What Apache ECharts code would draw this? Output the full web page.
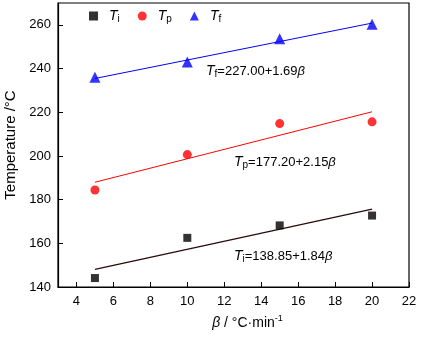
<!DOCTYPE html>
<html><head><meta charset="utf-8">
<script src="https://cdn.jsdelivr.net/npm/echarts@6/dist/echarts.min.js"></script>
<style>html,body{margin:0;padding:0;background:#fff}#c{width:422px;height:342px}</style>
</head><body><div id="c"></div>
<script>
const beta = [5, 10, 15, 20];
const Ti = [144.1, 162.5, 168.2, 172.7];
const Tp = [184.4, 200.6, 214.8, 215.6];
const Tf = [236.0, 243.0, 253.6, 260.3];
const fitX = [5, 20];
const TiFit = [148.05, 175.65];
const TpFit = [187.95, 220.20];
const TfFit = [235.45, 260.80];
const xTicks = [4, 6, 8, 10, 12, 14, 16, 18, 20, 22];
const yTicks = [140, 160, 180, 200, 220, 240, 260];

const FONT = 'Liberation Sans, Arial, sans-serif';
const pair = (xs, ys) => xs.map((x, i) => [x, ys[i]]);
const chart = echarts.init(document.getElementById('c'), null, {renderer: 'canvas'});

const rich = {
  t: {fontFamily: FONT, fontSize: 14, fontStyle: 'italic', color: '#000', lineHeight: 16},
  s: {fontFamily: FONT, fontSize: 10, color: '#000', verticalAlign: 'bottom', lineHeight: 10},
  n: {fontFamily: FONT, fontSize: 13, color: '#000', lineHeight: 16},
  b: {fontFamily: FONT, fontSize: 13, fontStyle: 'italic', color: '#000', lineHeight: 16}
};
const legRich = Object.assign({}, rich, {
  t: Object.assign({}, rich.t, {padding: [0, 0, 0, 6]})
});
const subs = {Ti: 'i', Tp: 'p', Tf: 'f'};

chart.setOption({
  animation: false,
  grid: {left: 58, top: 3, right: 13, bottom: 55, containLabel: false, outerBoundsMode: 'none'},
  legend: {
    left: 84, top: 4, itemGap: 18, itemWidth: 9, itemHeight: 9,
    data: [
      {name: 'Ti', icon: 'rect'},
      {name: 'Tp', icon: 'circle'},
      {name: 'Tf', icon: 'triangle'}
    ],
    formatter: n => '{t|T}{s|' + subs[n] + '}',
    textStyle: {rich: legRich}
  },
  xAxis: {
    type: 'value', min: 3, max: 22,
    name: '{b|β} / °C·min{sup|-1}', nameLocation: 'middle', nameGap: 27,
    nameTextStyle: {fontFamily: FONT, fontSize: 14, color: '#000', padding: [0, 0, 0, 28],
      rich: {b: {fontFamily: FONT, fontSize: 14, fontStyle: 'italic', color: '#000'},
             sup: {fontFamily: FONT, fontSize: 9, color: '#000', verticalAlign: 'top', lineHeight: 18}}},
    axisLine: {lineStyle: {color: '#000', width: 1.2}},
    axisTick: {inside: true, length: 5, customValues: xTicks, lineStyle: {color: '#000'}},
    axisLabel: {customValues: xTicks, fontFamily: FONT, fontSize: 13, color: '#000', margin: 8},
    splitLine: {show: false}
  },
  yAxis: {
    type: 'value', min: 140, max: 270,
    name: 'Temperature /°C', nameLocation: 'middle', nameGap: 40, nameRotate: 90,
    nameTextStyle: {fontFamily: FONT, fontSize: 15, color: '#000'},
    axisLine: {lineStyle: {color: '#000', width: 1.2}},
    axisTick: {inside: true, length: 5, customValues: yTicks, lineStyle: {color: '#000'}},
    axisLabel: {customValues: yTicks, fontFamily: FONT, fontSize: 13, color: '#000', margin: 7},
    splitLine: {show: false}
  },
  series: [
    {name: 'Ti', type: 'scatter', symbol: 'rect', symbolSize: 8, itemStyle: {color: '#000'}, data: pair(beta, Ti), z: 3},
    {name: 'Tp', type: 'scatter', symbol: 'circle', symbolSize: 9, itemStyle: {color: '#ff0000'}, data: pair(beta, Tp), z: 3},
    {name: 'Tf', type: 'scatter', symbol: 'triangle', symbolSize: 11, itemStyle: {color: '#0000ff'}, data: pair(beta, Tf), z: 3},
    {type: 'line', symbol: 'none', data: pair(fitX, TiFit), lineStyle: {color: '#2a0a0a', width: 1.3}},
    {type: 'line', symbol: 'none', data: pair(fitX, TpFit), lineStyle: {color: '#ff0000', width: 1}},
    {type: 'line', symbol: 'none', data: pair(fitX, TfFit), lineStyle: {color: '#0000ff', width: 1}}
  ],
  graphic: [
    {type: 'rect', shape: {x: 58, y: 3, width: 351, height: 284}, style: {fill: 'none', stroke: '#000', lineWidth: 1.2}, silent: true},
    {type: 'text', left: 206, top: 64, style: {text: '{t|T}{s|f}{n|=227.00+1.69}{b|β}', rich: rich}},
    {type: 'text', left: 234, top: 155, style: {text: '{t|T}{s|p}{n|=177.20+2.15}{b|β}', rich: rich}},
    {type: 'text', left: 234, top: 249, style: {text: '{t|T}{s|i}{n|=138.85+1.84}{b|β}', rich: rich}}
  ]
});
</script></body></html>
